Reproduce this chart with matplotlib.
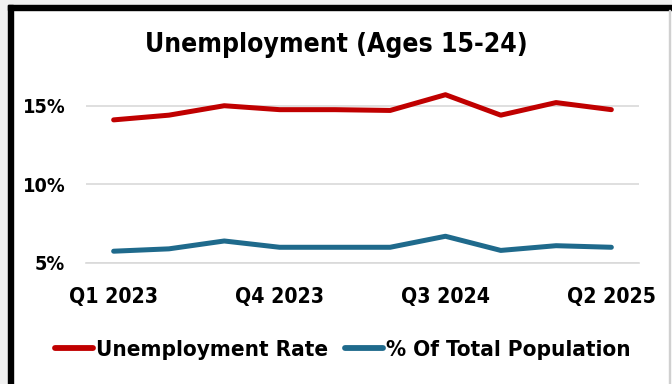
import matplotlib.pyplot as plt
from matplotlib import font_manager
from matplotlib.patches import Rectangle
from matplotlib.ticker import FuncFormatter

# pick a narrow bold face when one is installed
names = {(f.name, f.stretch) for f in font_manager.fontManager.ttflist}
if any(n == "Liberation Sans Narrow" for n, _ in names):
    FAMILY, STRETCH, SCALE = "Liberation Sans Narrow", "normal", 1.0
elif ("DejaVu Sans", "condensed") in names or ("DejaVu Sans", "semi-condensed") in names:
    FAMILY, STRETCH, SCALE = "DejaVu Sans", "condensed", 0.95
else:
    FAMILY, STRETCH, SCALE = "Roboto", "normal", 0.92

plt.rcParams["font.family"] = [FAMILY, "DejaVu Sans"]
plt.rcParams["font.stretch"] = STRETCH
plt.rcParams["font.weight"] = "bold"

quarters = ["Q1 2023", "Q2 2023", "Q3 2023", "Q4 2023", "Q1 2024",
            "Q2 2024", "Q3 2024", "Q4 2024", "Q1 2025", "Q2 2025"]
unemployment_rate = [14.1, 14.4, 15.0, 14.75, 14.75, 14.7, 15.7, 14.4, 15.2, 14.75]
share_of_population = [5.75, 5.9, 6.4, 6.0, 6.0, 6.0, 6.7, 5.8, 6.1, 6.0]

RED = "#C00000"
BLUE = "#1F6A8C"

fig = plt.figure(figsize=(6.72, 3.84), dpi=100, facecolor="white")

# grey margin and thick black frame on top / left edges
fig.patches.append(Rectangle((0, 0), 8 / 672, 1, transform=fig.transFigure,
                             color="#f0f0f0", zorder=0))
fig.patches.append(Rectangle((0, 1 - 5 / 384), 1, 5 / 384, transform=fig.transFigure,
                             color="#f0f0f0", zorder=0))
fig.patches.append(Rectangle((8 / 672, 0), 4.5 / 672, 1 - 5 / 384, transform=fig.transFigure,
                             color="black", zorder=1))
fig.patches.append(Rectangle((8 / 672, 1 - 10 / 384), 1 - 8 / 672, 5 / 384,
                             transform=fig.transFigure, color="black", zorder=1))
fig.patches.append(Rectangle((669 / 672, 0), 1 / 672, 1 - 10 / 384, transform=fig.transFigure,
                             color="#d0d0d0", zorder=1))

ax = fig.add_axes([86 / 672, 121 / 384, 553 / 672, 173 / 384])
x = list(range(len(quarters)))
ax.plot(x, unemployment_rate, color=RED, lw=3.6, solid_capstyle="round",
        solid_joinstyle="round", label="Unemployment Rate", zorder=3)
ax.plot(x, share_of_population, color=BLUE, lw=3.6, solid_capstyle="round",
        solid_joinstyle="round", label="% Of Total Population", zorder=3)

ax.set_xlim(-0.5, len(quarters) - 0.5)
ax.set_ylim(5, 16)
ax.set_yticks([5, 10, 15])
ax.yaxis.set_major_formatter(FuncFormatter(lambda v, _: f"{v:.0f}%"))
ax.set_xticks(x[::3])
ax.set_xticklabels(quarters[::3])
ax.grid(axis="y", color="#d9d9d9", lw=1.2)
ax.set_axisbelow(True)
for side in ["top", "right", "left"]:
    ax.spines[side].set_visible(False)
ax.spines["bottom"].set_color("#d9d9d9")
ax.spines["bottom"].set_linewidth(1.2)
ax.tick_params(axis="y", length=0, labelsize=15 * SCALE, pad=15)
ax.tick_params(axis="x", length=0, labelsize=16 * SCALE, pad=17)

fig.text(0.5, 1 - 45 / 384, "Unemployment (Ages 15-24)", ha="center", va="center",
         fontsize=20 * SCALE, fontweight="bold")

leg = fig.legend(loc="center", bbox_to_anchor=(0.51, 1 - 350 / 384), ncol=2, frameon=False,
                 fontsize=17 * SCALE, handlelength=1.7, handletextpad=0.12,
                 columnspacing=0.75)
for h in leg.get_lines():
    h.set_linewidth(4.2)

fig.savefig("out.png", dpi=100, facecolor=fig.get_facecolor())
